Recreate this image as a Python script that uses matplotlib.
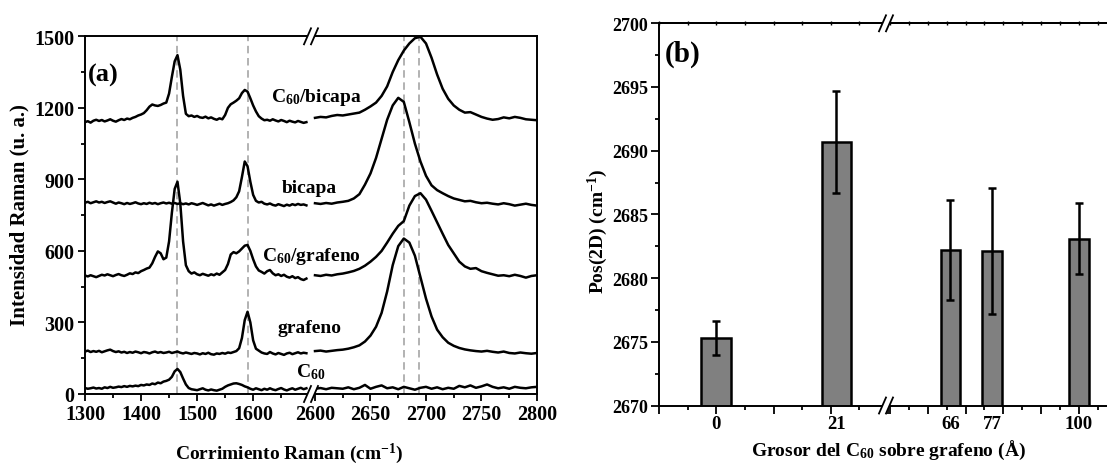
import numpy as np
import matplotlib.pyplot as plt
from matplotlib.lines import Line2D
from matplotlib.patches import Polygon
from matplotlib.ticker import MultipleLocator

plt.rcParams['font.family'] = ['Liberation Serif', 'DejaVu Serif']
plt.rcParams['font.weight'] = 'bold'
plt.rcParams['mathtext.fontset'] = 'custom'
plt.rcParams['mathtext.rm'] = 'Liberation Serif:bold'
plt.rcParams['mathtext.it'] = 'Liberation Serif:italic:bold'
plt.rcParams['mathtext.bf'] = 'Liberation Serif:bold'
plt.rcParams['mathtext.default'] = 'rm'
plt.rcParams['axes.linewidth'] = 1.4

# ==========================================
# (a) RAMAN SPECTRA, two windows of the shift axis
# ==========================================
shift_lo = np.arange(1300, 1700, 5)    # 1300 ... 1695 cm-1
shift_hi = np.arange(2600, 2805, 5)    # 2600 ... 2800 cm-1

c60_lo = [25, 22, 24, 27, 23, 25, 22, 28, 25, 30, 26, 28, 31, 29, 33, 30, 34, 32, 35, 33,
          38, 36, 40, 38, 44, 41, 48, 45, 52, 55, 60, 72, 95, 105, 92, 65, 40, 25, 20, 18,
          16, 20, 24, 18, 15, 19, 16, 14, 18, 22, 30, 36, 40, 44, 45, 42, 38, 32, 28, 22,
          18, 24, 20, 16, 22, 18, 24, 19, 16, 21, 25, 19, 15, 20, 24, 18, 22, 26, 20, 24]
c60_hi = [22, 25, 20, 26, 24, 22, 28, 20, 26, 38, 22, 30, 36, 24, 28, 20, 30, 24, 18, 26,
          30, 22, 28, 20, 26, 22, 34, 28, 36, 26, 32, 40, 30, 24, 28, 22, 30, 26, 24, 28, 30]

graf_lo = [178, 182, 176, 180, 177, 181, 175, 179, 183, 186, 180, 176, 179, 174, 177, 172, 176, 173, 178, 175,
           171, 176, 174, 170, 175, 178, 173, 176, 172, 174, 177, 172, 175, 178, 173, 170, 174, 171, 168, 172,
           170, 166, 171, 168, 173, 167, 165, 170, 168, 172, 169, 174, 172, 176, 180, 192, 235, 310, 345, 300,
           225, 190, 182, 174, 170, 168, 176, 170, 166, 172, 168, 164, 170, 173, 167, 171, 175, 170, 173, 171]
graf_hi = [180, 182, 178, 181, 184, 186, 190, 196, 204, 220, 245, 282, 340, 430, 540, 620, 652, 635, 580, 490,
           400, 325, 270, 238, 215, 202, 193, 187, 183, 180, 178, 181, 177, 174, 178, 172, 170, 174, 171, 169, 172]

c60graf_lo = [497, 493, 498, 494, 490, 495, 500, 497, 502, 498, 494, 499, 503, 498, 495, 500, 506, 503, 510, 507,
              515, 520, 526, 530, 548, 575, 598, 590, 565, 572, 640, 760, 860, 890, 800, 640, 540, 515, 505, 510,
              502, 498, 504, 500, 496, 502, 498, 505, 500, 510, 520, 545, 585, 595, 590, 598, 610, 622, 625, 600,
              565, 535, 518, 512, 505, 515, 520, 506, 498, 502, 495, 500, 492, 488, 494, 486, 490, 482, 478, 484]
c60graf_hi = [498, 495, 500, 497, 502, 505, 510, 516, 525, 538, 555, 575, 600, 635, 672, 705, 725, 790, 830, 842,
              815, 768, 720, 672, 625, 590, 555, 535, 525, 528, 515, 508, 502, 496, 498, 494, 500, 495, 488, 495, 498]

bicapa_lo = [802, 806, 800, 804, 808, 803, 806, 801, 805, 808, 803, 798, 803, 800, 796, 801, 797, 800, 804, 799,
             796, 800, 797, 802, 798, 801, 796, 800, 803, 799, 802, 798, 801, 797, 800, 796, 799, 795, 800, 797,
             793, 797, 801, 796, 791, 795, 790, 794, 798, 793, 797, 800, 805, 812, 825, 850, 910, 975, 955, 890,
             835, 810, 803, 806, 798, 795, 799, 793, 790, 796, 792, 788, 794, 790, 796, 792, 797, 793, 795, 791]
bicapa_hi = [800, 797, 801, 798, 803, 806, 810, 820, 838, 878, 925, 990, 1070, 1150, 1210, 1242, 1225, 1140, 1050, 975,
             915, 875, 855, 842, 830, 820, 814, 808, 810, 804, 800, 802, 798, 795, 800, 796, 790, 794, 798, 793, 790]

c60bic_lo = [1140, 1144, 1138, 1146, 1150, 1145, 1149, 1143, 1147, 1152, 1146, 1142, 1148, 1153, 1149, 1155, 1152, 1158, 1162, 1168,
             1172, 1178, 1190, 1205, 1214, 1210, 1208, 1212, 1218, 1222, 1260, 1330, 1395, 1421, 1360, 1250, 1175, 1165, 1168, 1162,
             1166, 1160, 1158, 1163, 1156, 1160, 1154, 1150, 1156, 1152, 1170, 1200, 1215, 1222, 1230, 1240, 1262, 1275, 1268, 1240,
             1210, 1185, 1165, 1155, 1148, 1150, 1146, 1152, 1147, 1143, 1149, 1145, 1140, 1146, 1142, 1139, 1145, 1141, 1137, 1140]
c60bic_hi = [1158, 1162, 1160, 1166, 1170, 1168, 1172, 1176, 1180, 1192, 1206, 1222, 1250, 1290, 1350, 1400, 1440, 1470, 1492, 1498,
             1470, 1410, 1340, 1280, 1238, 1210, 1192, 1180, 1182, 1172, 1162, 1155, 1150, 1153, 1160, 1156, 1162, 1158, 1152, 1150, 1148]

peak_lines_lo = [1465, 1590]
peak_lines_hi = [2680, 2694]

spectra = [(c60_lo, c60_hi), (graf_lo, graf_hi), (c60graf_lo, c60graf_hi),
           (bicapa_lo, bicapa_hi), (c60bic_lo, c60bic_hi)]
spectra_names = [r"C$_{60}$", "grafeno", r"C$_{60}$/grafeno", "bicapa", r"C$_{60}$/bicapa"]
# label anchor (pixel x centre, pixel baseline y)
name_pos = [(311, 377), (310, 333), (311, 261), (309, 193), (316, 102)]

# ==========================================
# (b) 2D PEAK POSITION VS C60 THICKNESS
# ==========================================
thickness = np.array([0, 21, 66, 77, 100])
pos_2d = np.array([2675.3, 2690.7, 2682.2, 2682.1, 2683.1])
pos_err = np.array([1.35, 4.0, 3.9, 4.95, 2.8])

W, H = 1107, 464
fig = plt.figure(figsize=(W / 100, H / 100), dpi=100)


def box(x0, x1, ytop, ybot):
    # pixel box -> figure fraction rectangle
    return [x0 / W, 1 - ybot / H, (x1 - x0) / W, (ybot - ytop) / H]


def break_mark(xp, yp):
    fig.add_artist(Polygon([((xp - 6) / W, 1 - (yp + 7) / H), ((xp + 1) / W, 1 - (yp + 7) / H),
                            ((xp + 6) / W, 1 - (yp - 7) / H), ((xp - 1) / W, 1 - (yp - 7) / H)],
                           closed=True, transform=fig.transFigure, facecolor='white',
                           edgecolor='none', zorder=5))
    for dx in (-3.5, 3.5):
        fig.add_artist(Line2D([(xp + dx - 3.5) / W, (xp + dx + 3.5) / W],
                              [1 - (yp + 8) / H, 1 - (yp - 8) / H],
                              transform=fig.transFigure, color='black', lw=1.3, zorder=6))


# ---- panel (a) ----
axa1 = fig.add_axes(box(85, 312, 37.3, 395))
axa2 = fig.add_axes(box(312, 537, 37.3, 395))

for (ylo, yhi) in spectra:
    axa1.plot(shift_lo, ylo, color='black', lw=1.8, zorder=3)
    axa2.plot(shift_hi, yhi, color='black', lw=1.8, zorder=3)
for xl in peak_lines_lo:
    axa1.axvline(xl, color='#a6a6a6', lw=1.2, dashes=(4.5, 2.8), zorder=1)
for xl in peak_lines_hi:
    axa2.axvline(xl, color='#a6a6a6', lw=1.2, dashes=(4.5, 2.8), zorder=1)

axa1.set_xlim(1300, 1705)
axa2.set_xlim(2597.3, 2800)
for ax in (axa1, axa2):
    ax.set_ylim(0, 1500)
    ax.tick_params(which='both', direction='out', width=1.3, labelsize=14.5, pad=2.5)
    ax.tick_params(which='major', length=5)
    ax.tick_params(which='minor', length=3)
axa1.spines['right'].set_visible(False)
axa2.spines['left'].set_visible(False)
axa2.tick_params(axis='y', which='both', left=False, labelleft=False)
axa1.yaxis.set_major_locator(MultipleLocator(300))
axa1.yaxis.set_minor_locator(MultipleLocator(150))
axa1.set_xticks([1300, 1400, 1500, 1600])
axa1.set_xticks([1350, 1450, 1550, 1650], minor=True)
axa2.set_xticks([2600, 2650, 2700, 2750, 2800])
axa2.set_xticks([2625, 2675, 2725, 2775], minor=True)

for name, (xp, yp) in zip(spectra_names, name_pos):
    fig.text(xp / W, 1 - yp / H, name, ha='center', va='baseline', fontsize=14)

fig.text(88 / W, 1 - 82 / H, "(a)", ha='left', va='baseline', fontsize=19)
fig.text(19 / W, 1 - 215 / H, "Intensidad Raman (u. a.)", rotation=90,
         ha='center', va='center', fontsize=15)
fig.text(289 / W, 1 - 459 / H, r"Corrimiento Raman (cm$^{-1}$)",
         ha='center', va='baseline', fontsize=14)
break_mark(311, 37.3)
break_mark(311, 395)

# ---- panel (b) ----
axb1 = fig.add_axes(box(659, 888, 24.3, 406.5))
axb2 = fig.add_axes(box(888, 1115, 24.3, 406.5))
axb1.set_xlim(-10, 30)
axb2.set_xlim(49.5, 109.5)

for ax, mask in ((axb1, thickness < 40), (axb2, thickness >= 40)):
    ax.bar(thickness[mask], pos_2d[mask], width=5.2, color='#808080',
           edgecolor='black', linewidth=1.8, zorder=2)
    ax.errorbar(thickness[mask], pos_2d[mask], yerr=pos_err[mask], fmt='none',
                ecolor='black', elinewidth=1.8, capsize=2.6, capthick=1.8, zorder=3)
    for t in thickness[mask]:
        ax.text(t, -0.048, str(t), transform=ax.get_xaxis_transform(),
                ha='center', va='center', fontsize=13.5)
    ax.set_ylim(2670, 2700)
    ax.xaxis.set_major_locator(MultipleLocator(10))
    ax.xaxis.set_minor_locator(MultipleLocator(5))
    ax.tick_params(axis='x', which='both', labelbottom=False)
    ax.tick_params(which='both', direction='out', width=1.3, labelsize=13, pad=2.5)
    ax.tick_params(which='major', length=5.5)
    ax.tick_params(which='minor', length=2.8)
    top = ax.secondary_xaxis('top')
    top.xaxis.set_major_locator(MultipleLocator(5))
    top.tick_params(direction='inout', length=2.5, width=1, labeltop=False)
    top.spines['top'].set_linewidth(1.4)

axb1.spines['right'].set_visible(False)
axb2.spines['left'].set_visible(False)
axb2.tick_params(axis='y', which='both', left=False, labelleft=False)
axb1.yaxis.set_major_locator(MultipleLocator(5))
axb1.yaxis.set_minor_locator(MultipleLocator(2.5))

fig.text(665 / W, 1 - 62 / H, "(b)", ha='left', va='baseline', fontsize=21)
fig.text(598 / W, 1 - 231 / H, r"Pos(2D) (cm$^{-1}$)", rotation=90,
         ha='center', va='center', fontsize=14)
fig.text(888 / W, 1 - 456 / H, r"Grosor del C$_{60}$ sobre grafeno (Å)",
         ha='center', va='baseline', fontsize=14)
break_mark(886, 24.3)
break_mark(886, 406.5)

plt.savefig("out.png", dpi=100)
